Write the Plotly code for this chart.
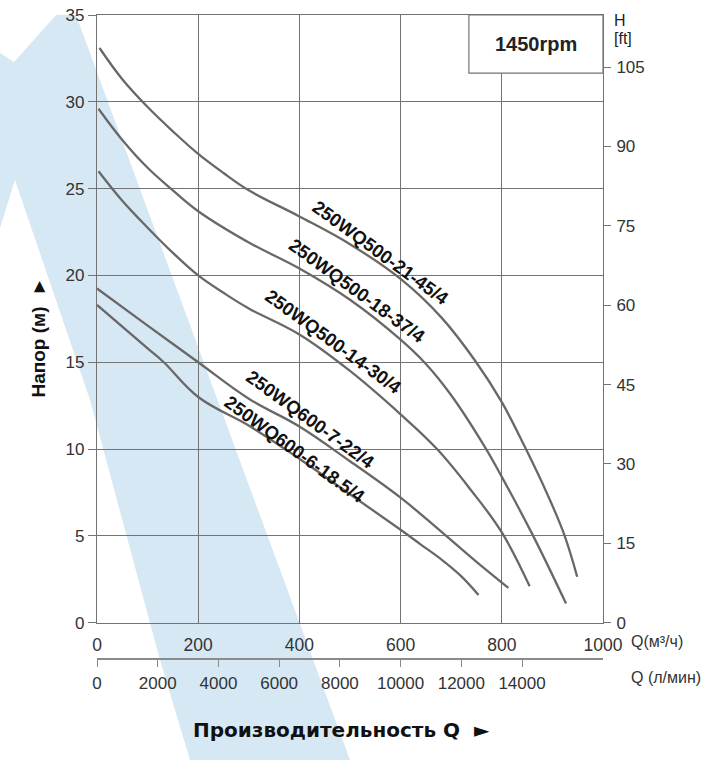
import plotly.graph_objects as go

# ---------------- data ----------------
models = ["250WQ500-21-45/4", "250WQ500-18-37/4", "250WQ500-14-30/4",
          "250WQ600-7-22/4", "250WQ600-6-18.5/4"]

q_21_45 = [5, 50, 100, 150, 200, 250, 300, 400, 500, 600, 680, 747, 800, 846, 890, 923, 949]
h_21_45 = [33.1, 31.3, 29.7, 28.3, 27.0, 25.9, 24.9, 23.4, 21.8, 19.8, 17.6, 15.1, 12.7, 10.1,
           7.4, 5.1, 2.65]

q_18_37 = [3, 50, 100, 150, 200, 300, 400, 500, 600, 650, 700, 767, 800, 862, 927]
h_18_37 = [29.6, 27.8, 26.2, 24.9, 23.7, 21.9, 20.4, 18.6, 16.3, 14.9, 13.1, 10.1, 8.4, 5.0, 1.1]

q_14_30 = [3, 50, 100, 150, 200, 250, 300, 400, 500, 600, 672, 740, 800, 855]
h_14_30 = [26.0, 24.3, 22.75, 21.3, 20.0, 19.0, 18.1, 16.6, 14.5, 12.0, 10.0, 7.6, 5.2, 2.1]

q_7_22 = [0, 96, 200, 300, 400, 500, 600, 678, 750, 813]
h_7_22 = [19.25, 17.2, 15.0, 12.9, 11.3, 9.3, 7.2, 5.3, 3.5, 2.0]

q_6_18 = [0, 100, 132, 200, 303, 402, 500, 600, 640, 678, 717, 754]
h_6_18 = [18.3, 15.8, 15.0, 13.0, 11.3, 9.4, 7.4, 5.35, 4.5, 3.7, 2.75, 1.6]

q_ticks = [0, 200, 400, 600, 800, 1000]
h_ticks = [0, 5, 10, 15, 20, 25, 30, 35]
ft_ticks = [0, 15, 30, 45, 60, 75, 90, 105]
lmin_ticks = [0, 2000, 4000, 6000, 8000, 10000, 12000, 14000]

speed_text = "1450rpm"
x_title = "Производительность Q  ►"
y_title = "Напор (м)  ►"
q_unit = "Q(м³/ч)"
lmin_unit = "Q (л/мин)"
ft_unit = "H"
ft_unit2 = "[ft]"

M_TO_FT = 3.28084
M3H_TO_LMIN = 1000.0 / 60.0

series = [(q_21_45, h_21_45), (q_18_37, h_18_37), (q_14_30, h_14_30),
          (q_7_22, h_7_22), (q_6_18, h_6_18)]

# ---------------- figure ----------------
W, H = 725, 760
ML, MR, MT, MB = 97, 122, 15, 101
PW, PH = W - ML - MR, H - MT - MB
GRID = "#737373"
CURVE = "#686868"
FONT = "Liberation Sans, Arial, sans-serif"


def px(x):
    return (x - ML) / PW


def py(y):
    return (H - MB - y) / PH


fig = go.Figure()

for (q, h), name in zip(series, models):
    fig.add_trace(go.Scatter(x=q, y=h, mode="lines", name=name,
                             line=dict(color=CURVE, width=2.3, shape="spline", smoothing=1.1),
                             hoverinfo="skip"))

# helper traces so the secondary axes render
fig.add_trace(go.Scatter(x=[0], y=[0], xaxis="x2", yaxis="y", mode="markers",
                         marker=dict(opacity=0), hoverinfo="skip", showlegend=False))
fig.add_trace(go.Scatter(x=[0], y=[0], xaxis="x", yaxis="y2", mode="markers",
                         marker=dict(opacity=0), hoverinfo="skip", showlegend=False))

y0_dom = py(622.7)

fig.update_layout(
    width=W, height=H,
    margin=dict(l=ML, r=MR, t=MT, b=MB, pad=0, autoexpand=False),
    paper_bgcolor="white",
    plot_bgcolor="rgba(0,0,0,0)",
    showlegend=False,
    font=dict(family=FONT, size=17, color="#333"),
    xaxis=dict(range=[0, 1000], tickvals=q_ticks, showgrid=True, gridcolor=GRID, gridwidth=1.2,
               showline=True, linecolor=GRID, linewidth=1.2, mirror=True, zeroline=False,
               ticks="", anchor="y", ticklabelstandoff=6, automargin=False,
               tickfont=dict(size=17.5)),
    yaxis=dict(range=[0, 35], tickvals=h_ticks, domain=[y0_dom, 1], showgrid=True,
               gridcolor=GRID, gridwidth=1.2, showline=True, linecolor=GRID, linewidth=1.2,
               mirror=True, zeroline=False, ticks="outside", ticklen=8, tickcolor=GRID,
               tickwidth=1.2, ticklabelstandoff=0, automargin=False),
    yaxis2=dict(range=[0, 35 * M_TO_FT], tickvals=ft_ticks, overlaying="y", side="right",
                anchor="x", showgrid=False, zeroline=False, showline=False,
                ticks="outside", ticklen=7, tickcolor=GRID, tickwidth=1.2,
                ticklabelstandoff=2, automargin=False),
    xaxis2=dict(range=[0, 1000 * M3H_TO_LMIN], tickvals=lmin_ticks, tickformat="d",
                overlaying="x", anchor="free", position=0, side="bottom", showgrid=False,
                zeroline=False, showline=True, linecolor="#8a8a8a", linewidth=1.5,
                ticks="outside", ticklen=7, tickcolor="#8a8a8a", tickwidth=1.2,
                ticklabelstandoff=2, automargin=False),
)

# watermark band (decorative, in page pixels converted to paper coords)
band = [(0, 53), (14, 62), (56, 15), (76, 15), (350, 760), (190, 760), (160, 660),
        (90, 400), (15, 180), (0, 228)]
path = "M " + " L ".join(f"{px(a):.4f},{py(b):.4f}" for a, b in band) + " Z"
fig.add_shape(type="path", path=path, xref="paper", yref="paper", layer="below",
              fillcolor="#d7e8f5", line=dict(width=0))

# speed box
fig.add_shape(type="rect", x0=735, x1=1000, y0=31.65, y1=35, xref="x", yref="y",
              layer="above", fillcolor="white", line=dict(color=GRID, width=1.2))
fig.add_annotation(x=867, y=33.35, xref="x", yref="y", text=f"<b>{speed_text}</b>",
                   showarrow=False, font=dict(size=20, color="#222"))

# curve labels
label_pos = [(560, 21.3), (514, 19.15), (467, 16.2), (422, 11.7), (392, 10.0)]
for name, (lx, ly) in zip(models, label_pos):
    fig.add_annotation(x=lx, y=ly, xref="x", yref="y", text=f"<b>{name}</b>",
                       textangle=36, showarrow=False, font=dict(size=18.5, color="#111"))

# axis unit labels
fig.add_annotation(x=px(629), y=py(641), xref="paper", yref="paper", text=q_unit,
                   xanchor="left", yanchor="middle", showarrow=False,
                   font=dict(size=16, color="#333"))
fig.add_annotation(x=px(629), y=py(677), xref="paper", yref="paper", text=lmin_unit,
                   xanchor="left", yanchor="middle", showarrow=False,
                   font=dict(size=16, color="#333"))
fig.add_annotation(x=px(612), y=py(21), xref="paper", yref="paper", text=ft_unit,
                   xanchor="left", yanchor="middle", showarrow=False,
                   font=dict(size=16, color="#222"))
fig.add_annotation(x=px(612), y=py(39), xref="paper", yref="paper", text=ft_unit2,
                   xanchor="left", yanchor="middle", showarrow=False,
                   font=dict(size=16, color="#222"))

# axis titles
fig.add_annotation(x=px(341), y=py(744), xref="paper", yref="paper", text=f"<b>{x_title}</b>",
                   showarrow=False, font=dict(family="DejaVu Sans", size=20, color="#111"))
fig.add_annotation(x=px(25), y=py(338), xref="paper", yref="paper", text=f"<b>{y_title}</b>",
                   textangle=-90, showarrow=False, font=dict(size=19, color="#111"))

fig.write_html("out.html", config={"displayModeBar": False},
               post_script="document.body.style.margin='0';")
